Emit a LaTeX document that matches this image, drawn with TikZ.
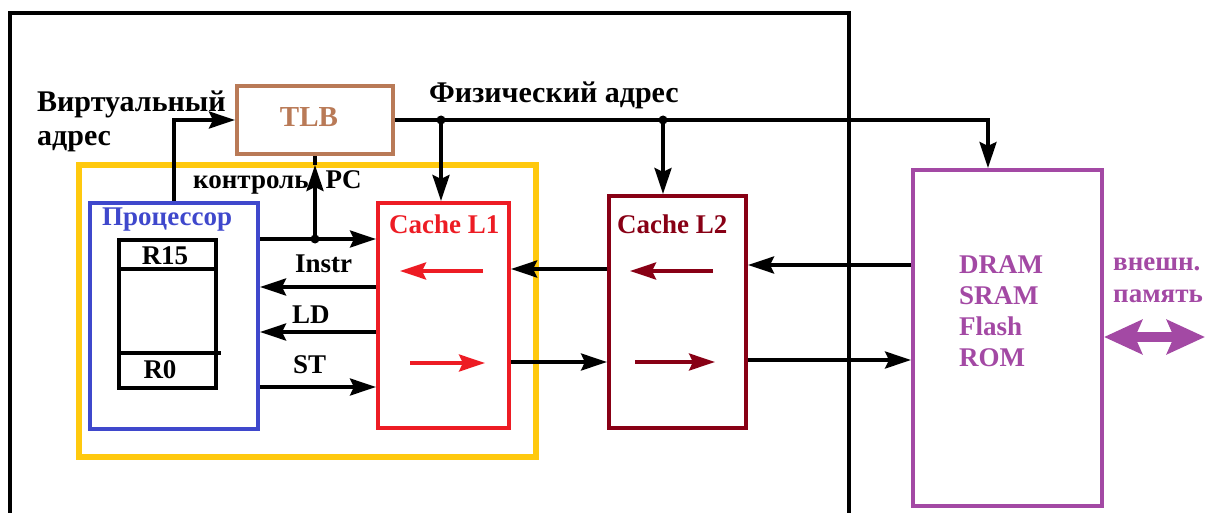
\documentclass[tikz,border=0pt]{standalone}
\usepackage{fontspec}
\setmainfont{Liberation Serif}
\usetikzlibrary{arrows.meta,calc}

\definecolor{tlbc}{HTML}{B97A57}
\definecolor{yelc}{HTML}{FFC90E}
\definecolor{proc}{HTML}{3F48CC}
\definecolor{lonec}{HTML}{ED1C24}
\definecolor{ltwoc}{HTML}{880015}
\definecolor{memc}{HTML}{A349A4}

\tikzset{
  lbl/.style={font=\bfseries\fontsize{27}{31}\selectfont, inner sep=0pt},
  biglbl/.style={font=\bfseries\fontsize{30}{34}\selectfont, inner sep=0pt},
  box/.style={draw=#1, line width=4pt, rectangle, inner sep=0pt},
  wire/.style={line width=3.5pt},
  arr/.style={wire, -{Stealth[length=26pt,width=17pt,inset=4pt]}},
  bothtips/.style={{Stealth[length=38pt,width=34pt,inset=7pt]}-{Stealth[length=38pt,width=34pt,inset=7pt]}},
  jdot/.style={circle, fill=black, inner sep=0pt, minimum size=9pt},
}

\begin{document}
\begin{tikzpicture}[x=1pt,y=-1pt]
\path[use as bounding box] (0,0) rectangle (1214,513);

% outer frame (open at the bottom)
\draw[line width=4pt] (10,513) -- (10,13) -- (849,13) -- (849,513);

% blocks
\node[box=yelc, line width=6pt, minimum width=457pt, minimum height=292pt] (core) at (307.5,311) {};
\node[box=tlbc, minimum width=156pt, minimum height=68pt] (tlb) at (315,120) {};
\node[box=proc, minimum width=168pt, minimum height=226pt] (cpu) at (174,316) {};
\node[box=black, line width=3.5pt, minimum width=97pt, minimum height=148pt] (reg) at (167.5,314) {};
\node[box=lonec, minimum width=131pt, minimum height=225pt] (lone) at (443.5,315.5) {};
\node[box=ltwoc, minimum width=137pt, minimum height=232pt] (ltwo) at (677.5,312) {};
\node[box=memc, minimum width=189pt, minimum height=336pt] (mem) at (1007.5,338) {};

% register file dividers
\coordinate (rtop) at (0,269);
\coordinate (rbot) at (0,353);
\draw[line width=3.5pt] (reg.west |- rtop) -- (reg.east |- rtop);
\draw[line width=3.5pt] (reg.west |- rbot) -- ([xshift=3pt]reg.east |- rbot);

% labels (base anchor of a multi-line node is the last line)
\node[lbl, font=\bfseries\fontsize{29}{31}\selectfont, anchor=base, text=tlbc] (tlblbl) at (309,127) {TLB};
\node[biglbl, anchor=base west, align=left] (va) at (37,146) {Виртуальный\\адрес};
\node[biglbl, anchor=base west] (pa) at (429,103) {Физический адрес};
\node[lbl, anchor=base west] (ctl) at (193,188) {контроль\hspace{17pt}PC};
\node[lbl, anchor=base west, text=proc] (cpulbl) at (102,225) {Процессор};
\node[lbl, anchor=base] (rhi) at (165,264) {R15};
\node[lbl, anchor=base] (rlo) at (160,378) {R0};
\node[lbl, anchor=base west, text=lonec] (lonelbl) at (389,233) {Cache L1};
\node[lbl, anchor=base west, text=ltwoc] (ltwolbl) at (617,233) {Cache L2};
\node[lbl, anchor=base west] (instr) at (295,272) {Instr};
\node[lbl, anchor=base west] (ld) at (292,323) {LD};
\node[lbl, anchor=base west] (st) at (293,373) {ST};
\node[lbl, anchor=base west, text=memc, align=left] (memlbl) at (959,366) {DRAM\\SRAM\\Flash\\ROM};
\node[lbl, font=\bfseries\fontsize{27}{32}\selectfont, anchor=base west, text=memc, align=left] (ext) at (1113,302) {внешн.\\память};

% virtual address into the TLB
\draw[arr] (cpu.north) |- (tlb.west);

% physical address bus
\coordinate (pax) at (988,0);
\coordinate (jone) at (441,120);
\coordinate (jtwo) at (663,120);
\draw[arr] (tlb.east) -| (mem.north -| pax);
\node[jdot] (dj1) at (jone) {};
\node[jdot] (dj2) at (jtwo) {};
\draw[arr] (jone) -- (lone.north -| jone);
\draw[arr] (jtwo) -- (ltwo.north -| jtwo);

% PC / control
\coordinate (jpc) at (315,239);
\coordinate (pctip) at (315,165);
\node[jdot] (dpc) at (jpc) {};
\draw[arr] (cpu.east |- jpc) -- (lone.west |- jpc);
\draw[arr] (jpc) -- (pctip);
\draw[wire] (pctip) -- (tlb.south);

% processor <-> L1
\coordinate (yinstr) at (0,287);
\coordinate (yld) at (0,332);
\coordinate (yst) at (0,387);
\draw[arr] (lone.west |- yinstr) -- (cpu.east |- yinstr);
\draw[arr] (lone.west |- yld) -- (cpu.east |- yld);
\draw[arr] (cpu.east |- yst) -- (lone.west |- yst);

% L1 <-> L2
\coordinate (yup) at (0,269);
\coordinate (ydn) at (0,362);
\draw[arr] (ltwo.west |- yup) -- (lone.east |- yup);
\draw[arr] (lone.east |- ydn) -- (ltwo.west |- ydn);

% L2 <-> memory
\coordinate (ymup) at (0,265);
\coordinate (ymdn) at (0,360);
\draw[arr] (mem.west |- ymup) -- (ltwo.east |- ymup);
\draw[arr] (ltwo.east |- ymdn) -- (mem.west |- ymdn);

% data flow inside the caches
\draw[arr, draw=lonec, fill=lonec] (483,271) -- (400,271);
\draw[arr, draw=lonec, fill=lonec] (410,363) -- (485,363);
\draw[arr, draw=ltwoc, fill=ltwoc] (713,271) -- (630,271);
\draw[arr, draw=ltwoc, fill=ltwoc] (635,362) -- (715,362);

% external memory port
\coordinate (extend) at (1205,337);
\draw[line width=10pt, draw=memc, fill=memc, bothtips] (mem.east |- extend) -- (extend);
\end{tikzpicture}
\end{document}
